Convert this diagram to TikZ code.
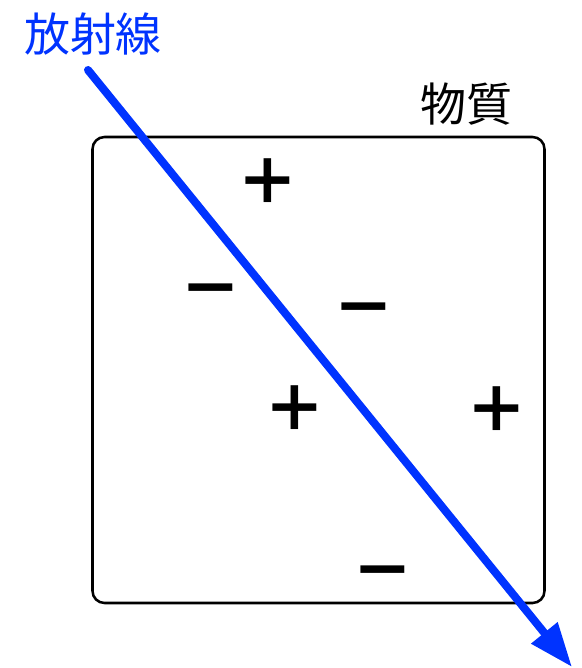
\documentclass[tikz,border=0pt]{standalone}
\usepackage{fontspec}
\setmainfont{Noto Sans CJK JP}
\usetikzlibrary{arrows.meta}
\definecolor{rayblue}{RGB}{0,51,255}
\begin{document}
\begin{tikzpicture}[x=0.75pt,y=-0.75pt,
  lbl/.style={inner sep=0pt,font=\fontsize{34.5}{40}\selectfont},
  sign/.style={inner sep=0pt,font=\fontsize{47}{50}\selectfont\bfseries}]
\useasboundingbox (0,0) rectangle (582,668);
\node[draw,line width=1.9pt,rounded corners=9pt,minimum width=339pt,minimum height=349.5pt,inner sep=0pt] (box) at (318.5,370) {};
\node[lbl,text=rayblue] (ray) at (93,34) {放射線};
\node[lbl] (mat) at (466,104) {物質};
\node[sign] (p1) at (268,182) {＋};
\node[sign] (m1) at (211,298) {－};
\node[sign] (m2) at (364,317) {－};
\node[sign] (p2) at (295,409) {＋};
\node[sign] (p3) at (497,410) {＋};
\node[sign] (m3) at (383,580) {－};
\coordinate (s) at (88,70);
\coordinate (e) at (572,667);
\draw[rayblue,line width=6pt,line cap=round,-{Triangle[length=33pt,width=24pt]}] (s) -- (e);
\end{tikzpicture}
\end{document}
